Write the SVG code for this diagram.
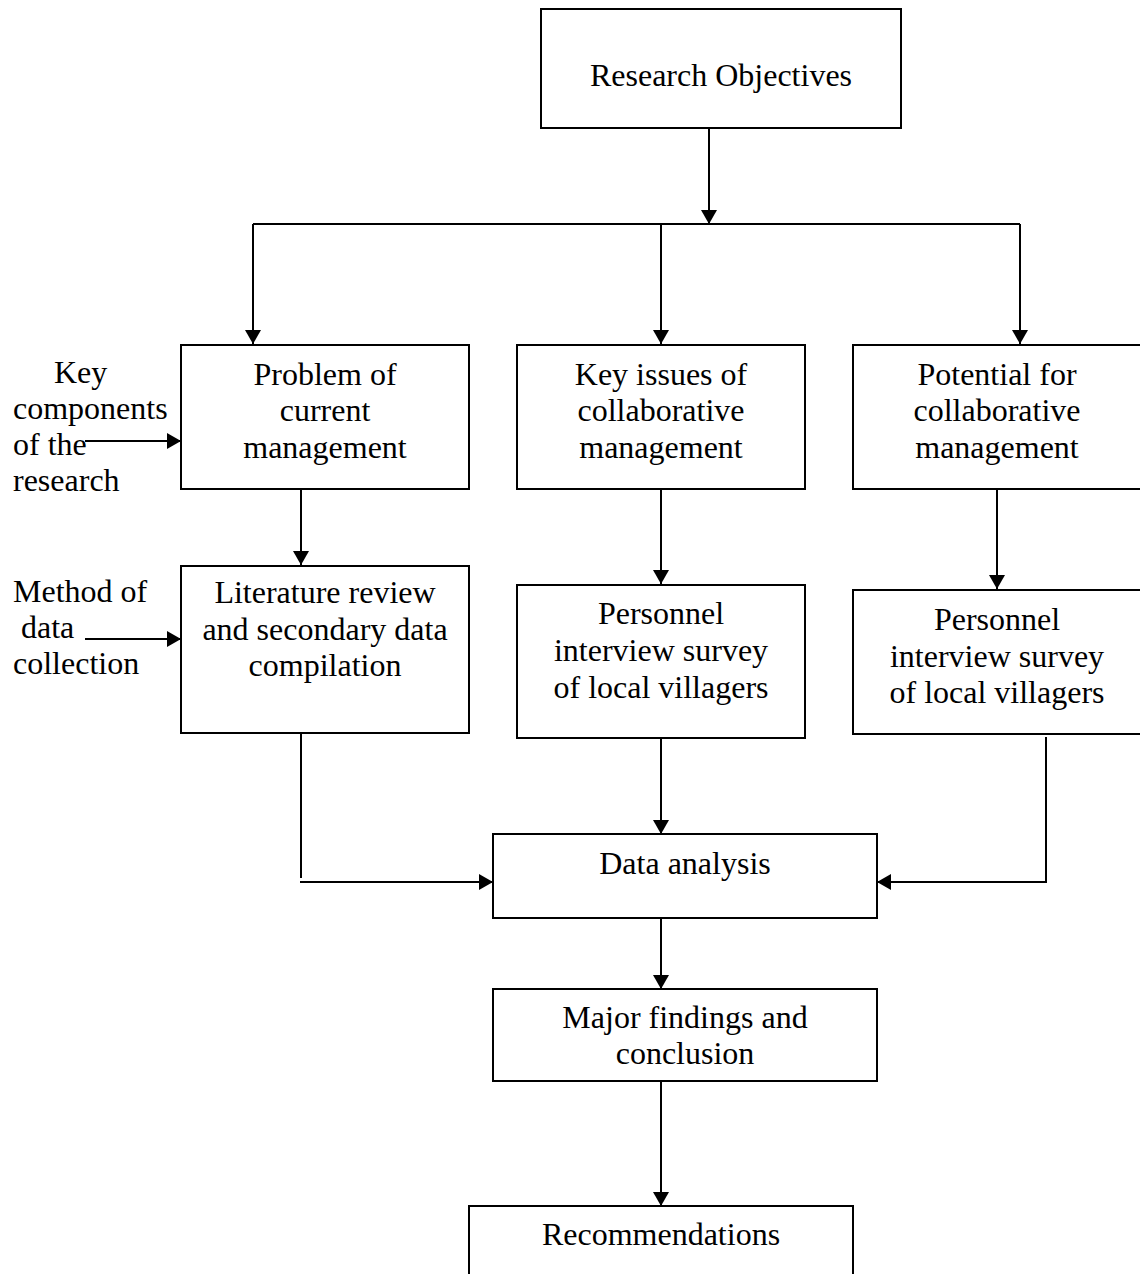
<svg xmlns="http://www.w3.org/2000/svg" width="1140" height="1274" viewBox="0 0 1140 1274">
<defs>
<marker id="arr" viewBox="0 0 14 16" refX="14" refY="8" markerWidth="14" markerHeight="16" markerUnits="userSpaceOnUse" orient="auto">
<path d="M0,0 L14,8 L0,16 Z" fill="#000"/>
</marker>
<style>
.box{fill:#fff;stroke:#000;stroke-width:2}
.t{font-family:"Liberation Serif","Times New Roman",serif;font-size:32px;fill:#000}
.c{text-anchor:middle}
.ln{fill:none;stroke:#000;stroke-width:2}
</style>
</defs>
<rect width="1140" height="1274" fill="#fff"/>
<g id="connectors">
<line class="ln" x1="709" y1="128" x2="709" y2="224" marker-end="url(#arr)"/>
<line class="ln" x1="253" y1="224" x2="1020" y2="224"/>
<line class="ln" x1="253" y1="224" x2="253" y2="344" marker-end="url(#arr)"/>
<line class="ln" x1="661" y1="224" x2="661" y2="344" marker-end="url(#arr)"/>
<line class="ln" x1="1020" y1="224" x2="1020" y2="344" marker-end="url(#arr)"/>
<line class="ln" x1="85" y1="441" x2="181" y2="441" marker-end="url(#arr)"/>
<line class="ln" x1="85" y1="639" x2="181" y2="639" marker-end="url(#arr)"/>
<line class="ln" x1="301" y1="489" x2="301" y2="565" marker-end="url(#arr)"/>
<line class="ln" x1="661" y1="489" x2="661" y2="584" marker-end="url(#arr)"/>
<line class="ln" x1="997" y1="489" x2="997" y2="589" marker-end="url(#arr)"/>
<line class="ln" x1="301" y1="733" x2="301" y2="878"/>
<line class="ln" x1="300" y1="882" x2="493" y2="882" marker-end="url(#arr)"/>
<line class="ln" x1="661" y1="738" x2="661" y2="834" marker-end="url(#arr)"/>
<polyline class="ln" points="1046,737 1046,882 877,882" marker-end="url(#arr)"/>
<line class="ln" x1="661" y1="918" x2="661" y2="989" marker-end="url(#arr)"/>
<line class="ln" x1="661" y1="1081" x2="661" y2="1206" marker-end="url(#arr)"/>
</g>
<g id="labels">
<text class="t" x="54" y="383">Key</text>
<text class="t" x="13" y="419">components</text>
<text class="t" x="13" y="455">of the</text>
<text class="t" x="13" y="491">research</text>
<text class="t" x="13" y="602">Method of</text>
<text class="t" x="21" y="638">data</text>
<text class="t" x="13" y="674">collection</text>
</g>
<g id="research-objectives">
<rect class="box" x="541" y="9" width="360" height="119"/>
<text class="t c" x="721" y="86">Research Objectives</text>
</g>
<g id="problem-current">
<rect class="box" x="181" y="345" width="288" height="144"/>
<text class="t c" x="325" y="385">Problem of</text>
<text class="t c" x="325" y="421">current</text>
<text class="t c" x="325" y="458">management</text>
</g>
<g id="key-issues">
<rect class="box" x="517" y="345" width="288" height="144"/>
<text class="t c" x="661" y="385">Key issues of</text>
<text class="t c" x="661" y="421">collaborative</text>
<text class="t c" x="661" y="458">management</text>
</g>
<g id="potential">
<rect class="box" x="853" y="345" width="300" height="144"/>
<text class="t c" x="997" y="385">Potential for</text>
<text class="t c" x="997" y="421">collaborative</text>
<text class="t c" x="997" y="458">management</text>
</g>
<g id="literature-review">
<rect class="box" x="181" y="566" width="288" height="167"/>
<text class="t c" x="325" y="603">Literature review</text>
<text class="t c" x="325" y="640">and secondary data</text>
<text class="t c" x="325" y="676">compilation</text>
</g>
<g id="personnel-middle">
<rect class="box" x="517" y="585" width="288" height="153"/>
<text class="t c" x="661" y="624">Personnel</text>
<text class="t c" x="661" y="661">interview survey</text>
<text class="t c" x="661" y="698">of local villagers</text>
</g>
<g id="personnel-right">
<rect class="box" x="853" y="590" width="300" height="144"/>
<text class="t c" x="997" y="630">Personnel</text>
<text class="t c" x="997" y="667">interview survey</text>
<text class="t c" x="997" y="703">of local villagers</text>
</g>
<g id="data-analysis">
<rect class="box" x="493" y="834" width="384" height="84"/>
<text class="t c" x="685" y="874">Data analysis</text>
</g>
<g id="major-findings">
<rect class="box" x="493" y="989" width="384" height="92"/>
<text class="t c" x="685" y="1028">Major findings and</text>
<text class="t c" x="685" y="1064">conclusion</text>
</g>
<g id="recommendations">
<rect class="box" x="469" y="1206" width="384" height="100"/>
<text class="t c" x="661" y="1245">Recommendations</text>
</g>
</svg>
